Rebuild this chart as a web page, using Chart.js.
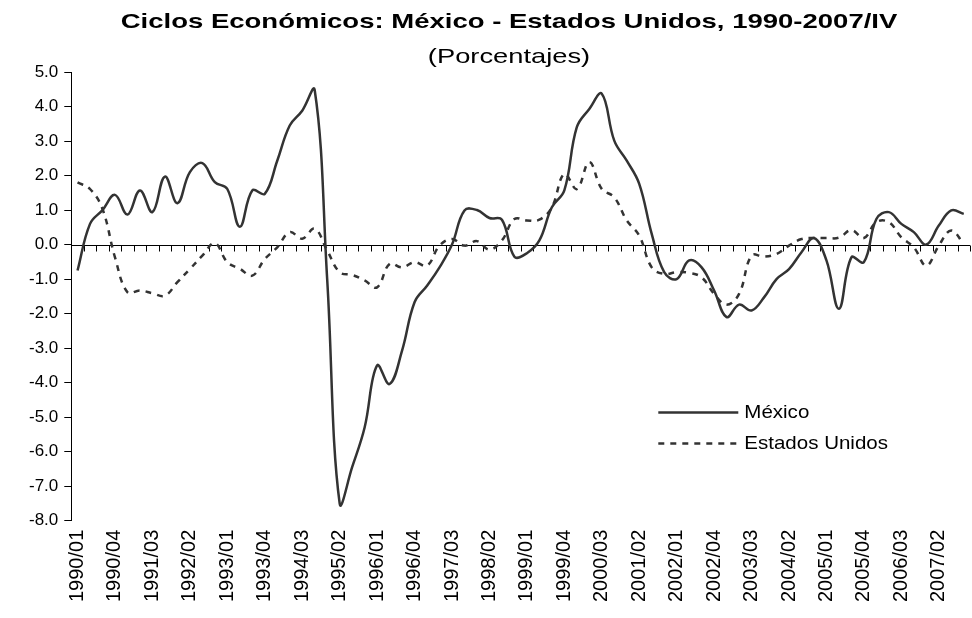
<!DOCTYPE html>
<html>
<head>
<meta charset="utf-8">
<script src="https://cdn.jsdelivr.net/npm/chart.js@4/dist/chart.umd.min.js"></script>
<style>
  html, body { margin: 0; padding: 0; background: #fff; }
  canvas { display: block; }
</style>
</head>
<body>
<canvas id="ciclos-chart" width="972" height="618"></canvas>
<script>
const years = [1990, 1991, 1992, 1993, 1994, 1995, 1996, 1997, 1998,
  1999, 2000, 2001, 2002, 2003, 2004, 2005, 2006, 2007];
const quarters = ['01', '02', '03', '04'];
const labels = years.flatMap(yr => quarters.map(q => `${yr}/${q}`));

// ciclo de Mexico, 1990/01 - 2007/04
const mexico = [
  -0.75, 0.6, 1.0, 1.44, 0.87, 1.57, 0.94, 1.97, 1.2, 2.1,
  2.36, 1.81, 1.61, 0.52, 1.57, 1.47, 2.43, 3.45, 3.88, 4.48,
  -1.0, -7.5, -6.45, -5.3, -3.5, -4.04, -3.07, -1.67, -1.19, -0.66,
  0.0, 0.99, 1.0, 0.77, 0.72, -0.35, -0.25, 0.12, 1.08, 1.57,
  3.4, 3.93, 4.37, 3.01, 2.43, 1.76, 0.31, -0.8, -1.0, -0.46,
  -0.66, -1.33, -2.1, -1.74, -1.91, -1.53, -1.0, -0.71, -0.22, 0.19,
  -0.46, -1.86, -0.37, -0.51, 0.74, 0.94, 0.6, 0.36, 0.0, 0.55,
  0.99, 0.89
];

// ciclo de Estados Unidos
const estadosUnidos = [
  1.8, 1.61, 1.03, -0.37, -1.38, -1.33, -1.41, -1.48, -1.09, -0.71,
  -0.32, 0.04, -0.51, -0.7, -0.9, -0.42, -0.08, 0.36, 0.17, 0.46,
  -0.17, -0.8, -0.88, -1.04, -1.24, -0.56, -0.66, -0.51, -0.61, -0.03,
  0.16, -0.03, 0.1, -0.15, 0.12, 0.74, 0.7, 0.72, 1.08, 2.05,
  1.61, 2.39, 1.61, 1.37, 0.7, 0.26, -0.66, -0.85, -0.8, -0.82,
  -0.95, -1.43, -1.74, -1.43, -0.32, -0.35, -0.27, -0.03, 0.16, 0.19,
  0.19, 0.2, 0.42, 0.19, 0.65, 0.65, 0.21, -0.08, -0.61, -0.03,
  0.41, 0.02
];

const yTicks = { min: -8, max: 5, step: 1 };
const labelEvery = 3;

const titleText = 'Ciclos Económicos: México - Estados Unidos, 1990-2007/IV';
const subtitleText = '(Porcentajes)';
const FONT = '"Liberation Sans", Arial, Helvetica, sans-serif';
const LINE_COLOR = '#333333';

function drawStretched(ctx, text, x, y, font, sx, align) {
  ctx.save();
  ctx.font = font;
  ctx.fillStyle = '#000';
  ctx.textAlign = align || 'center';
  ctx.textBaseline = 'middle';
  ctx.translate(x, y);
  ctx.scale(sx, 1);
  ctx.fillText(text, 0, 0);
  ctx.restore();
}

// eje horizontal en cero (como en Excel) + titulo + leyenda dentro del area
const excelLook = {
  id: 'excelLook',
  beforeDatasetsDraw(chart) {
    const { ctx, chartArea, scales: { x, y } } = chart;
    const y0 = Math.round(y.getPixelForValue(0)) + 0.5;
    const half = (x.getPixelForValue(1) - x.getPixelForValue(0)) / 2;
    ctx.save();
    ctx.strokeStyle = '#000';
    ctx.lineWidth = 1;
    ctx.beginPath();
    ctx.moveTo(chartArea.left, y0);
    ctx.lineTo(chartArea.right, y0);
    for (let i = 0; i <= labels.length; i++) {
      const px = Math.round(x.getPixelForValue(i) - half) + 0.5;
      ctx.moveTo(px, y0);
      ctx.lineTo(px, y0 + 6);
    }
    ctx.stroke();
    ctx.restore();
  },
  afterDraw(chart) {
    const { ctx, chartArea } = chart;
    drawStretched(ctx, titleText, 509, 22, `bold 21px ${FONT}`, 1.31);
    drawStretched(ctx, subtitleText, 509, 57, `21px ${FONT}`, 1.3);

    const lx = chartArea.left + 587;
    const ly = chartArea.top + 340.5;
    chart.data.datasets.forEach((ds, i) => {
      const rowY = ly + i * 31;
      ctx.save();
      ctx.strokeStyle = ds.borderColor;
      ctx.lineWidth = ds.borderWidth;
      ctx.setLineDash(ds.borderDash || []);
      ctx.beginPath();
      ctx.moveTo(lx, rowY);
      ctx.lineTo(lx + 80, rowY);
      ctx.stroke();
      ctx.restore();
      drawStretched(ctx, ds.label, lx + 86, rowY, `19px ${FONT}`, 1.08, 'left');
    });
  }
};

const ctx = document.getElementById('ciclos-chart').getContext('2d');
new Chart(ctx, {
  type: 'line',
  data: {
    labels,
    datasets: [{
      label: 'México',
      data: mexico,
      borderColor: LINE_COLOR,
      borderWidth: 2.5,
      pointRadius: 0,
      tension: 0.4,
      fill: false
    }, {
      label: 'Estados Unidos',
      data: estadosUnidos,
      borderColor: LINE_COLOR,
      borderWidth: 2.5,
      borderDash: [6, 6],
      pointRadius: 0,
      tension: 0.4,
      fill: false
    }]
  },
  options: {
    responsive: false,
    animation: false,
    events: [],
    layout: { padding: { top: 72, left: 23, right: 2, bottom: 7 } },
    plugins: {
      legend: { display: false },
      tooltip: { enabled: false },
      title: { display: false }
    },
    scales: {
      x: {
        type: 'category',
        offset: true,
        grid: { display: false, drawTicks: false },
        border: { display: false },
        afterFit: scale => { scale.paddingRight = 0; },
        ticks: {
          autoSkip: false,
          maxRotation: 90,
          minRotation: 90,
          padding: 9,
          color: '#000',
          font: { family: FONT, size: 20 },
          callback: (val, idx) => idx % labelEvery === 0 ? labels[idx] : ''
        }
      },
      y: {
        min: yTicks.min,
        max: yTicks.max,
        grid: { drawOnChartArea: false, drawTicks: true, tickLength: 7, color: '#000' },
        border: { display: true, color: '#000', width: 1 },
        ticks: {
          stepSize: yTicks.step,
          padding: 6,
          color: '#000',
          font: { family: FONT, size: 17 },
          callback: v => v.toFixed(1)
        }
      }
    }
  },
  plugins: [excelLook]
});
</script>
</body>
</html>
